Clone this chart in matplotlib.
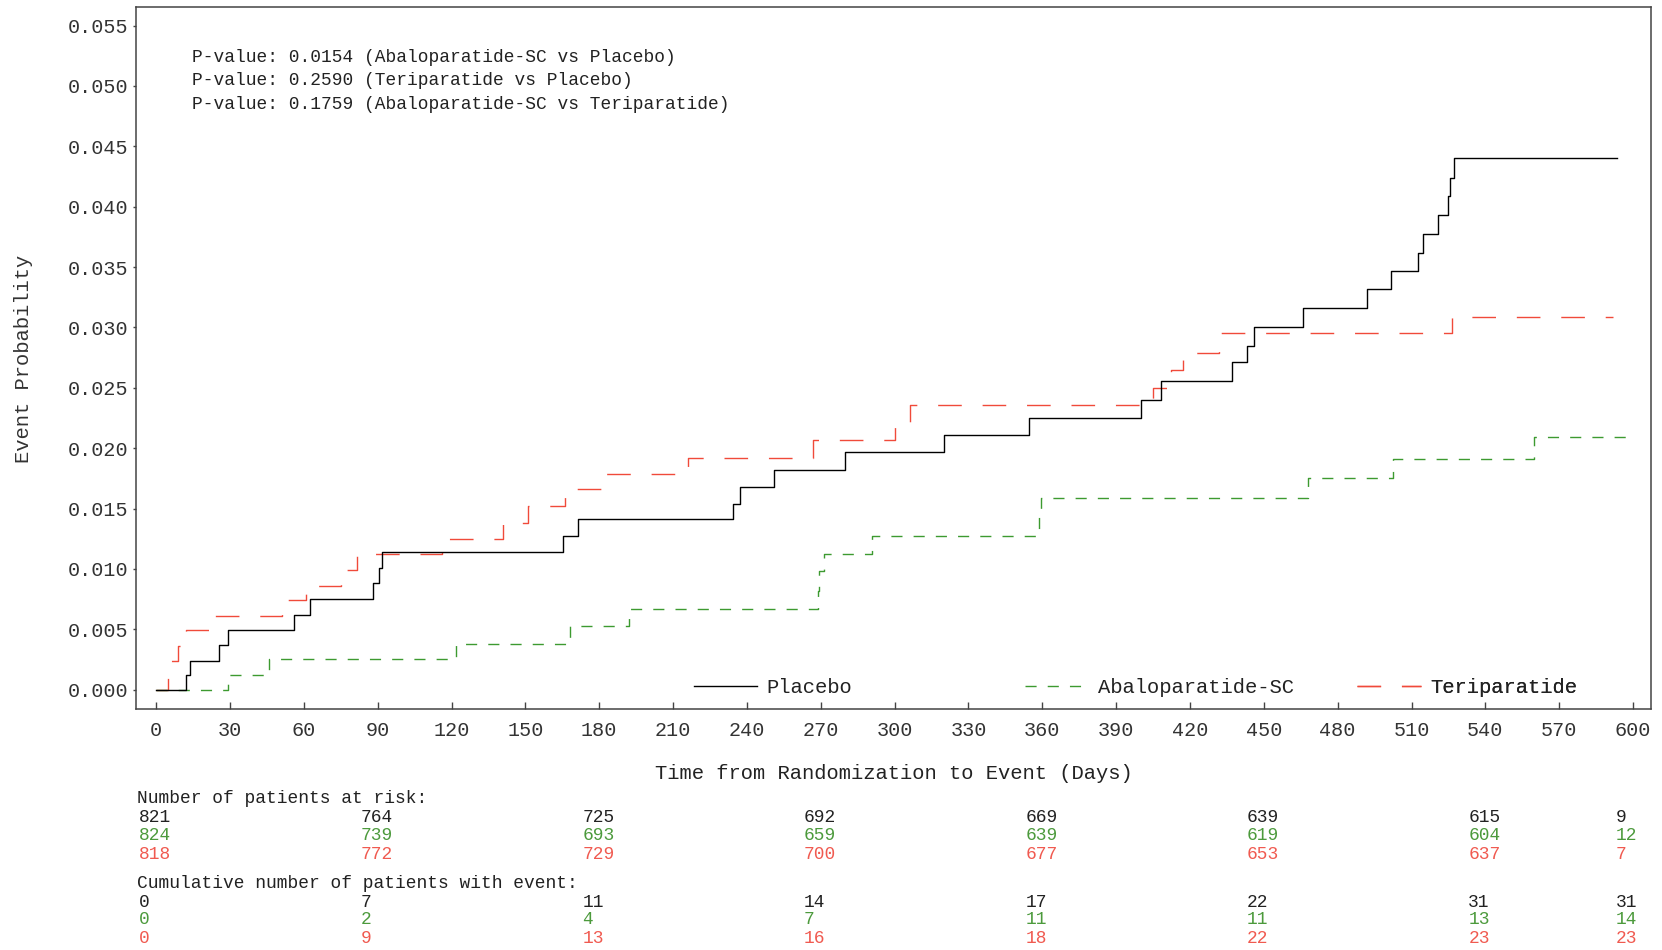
import matplotlib
matplotlib.use("Agg")
import matplotlib.pyplot as plt
import matplotlib.transforms as mtransforms

# Kaplan-Meier event curves: step times (days) and cumulative event probability
days_placebo = [0, 12, 13.8, 25.7, 29.1, 56, 62.6, 88, 90.7, 91.7, 165.4, 171.4,
                234.2, 237.2, 251, 280, 320, 354.5, 400.2, 408.1, 437, 443, 446,
                465.9, 492, 501.8, 512.5, 514.6, 520.7, 525, 525.7, 527.3]
prob_placebo = [0, 0.0012, 0.0024, 0.0037, 0.0049, 0.0062, 0.0075, 0.0088, 0.0101,
                0.0114, 0.0127, 0.0141, 0.0154, 0.0168, 0.0182, 0.0197, 0.0211,
                0.0225, 0.0240, 0.0256, 0.0271, 0.0285, 0.0300, 0.0316, 0.0332,
                0.0347, 0.0362, 0.0377, 0.0393, 0.0409, 0.0424, 0.0440]
end_placebo = 593.3

days_abalo = [0, 29.1, 46, 122, 168, 192, 268.7, 269.4, 271.3, 291, 358.6, 359.6,
              468, 502.6, 559.6]
prob_abalo = [0, 0.0012, 0.0025, 0.0038, 0.0053, 0.0067, 0.0082, 0.0098, 0.0112,
              0.0127, 0.0143, 0.0159, 0.0175, 0.0191, 0.0209]
end_abalo = 599

days_teri = [0, 4.8, 5.8, 8.7, 12, 23, 51, 60.7, 75, 81.7, 116, 141, 151, 166,
             181.3, 216, 267, 300.3, 306.4, 405, 412.2, 417.1, 431.7, 526.4]
prob_teri = [0, 0.0012, 0.0024, 0.0036, 0.0049, 0.0061, 0.0074, 0.0086, 0.0099,
             0.0112, 0.0125, 0.0138, 0.0152, 0.0166, 0.0179, 0.0192, 0.0207,
             0.0221, 0.0236, 0.0250, 0.0265, 0.0279, 0.0295, 0.0309]
end_teri = 592

# risk table
table_days = [0, 90, 180, 270, 360, 450, 540, 600]
risk_placebo = [821, 764, 725, 692, 669, 639, 615, 9]
risk_abalo = [824, 739, 693, 659, 639, 619, 604, 12]
risk_teri = [818, 772, 729, 700, 677, 653, 637, 7]
events_placebo = [0, 7, 11, 14, 17, 22, 31, 31]
events_abalo = [0, 2, 4, 7, 11, 11, 13, 14]
events_teri = [0, 9, 13, 16, 18, 22, 23, 23]

pvalues = ["P-value: 0.0154 (Abaloparatide-SC vs Placebo)",
           "P-value: 0.2590 (Teriparatide vs Placebo)",
           "P-value: 0.1759 (Abaloparatide-SC vs Teriparatide)"]

names = ["Placebo", "Abaloparatide-SC", "Teriparatide"]
BLACK = "#000000"
GREEN = "#3d9a30"
RED = "#f04a3a"
TXT_GREEN = "#4c9a3c"
TXT_RED = "#f05a50"

FONT = "Liberation Mono"
plt.rcParams["font.family"] = FONT

fig = plt.figure(figsize=(16.62, 9.5), dpi=100)
ax = fig.add_axes([0.0818, 0.2537, 0.9116, 0.7385])


def km_step(t, p, t_end, **kw):
    x = list(t) + [t_end]
    y = list(p) + [p[-1]]
    return ax.step(x, y, where="post", **kw)[0]


h_teri = km_step(days_teri, prob_teri, end_teri, color=RED, lw=1.0,
                 dashes=(17, 15))
h_abalo = km_step(days_abalo, prob_abalo, end_abalo, color=GREEN, lw=1.0,
                  dashes=(8, 8))
h_plac = km_step(days_placebo, prob_placebo, end_placebo, color=BLACK, lw=1.0)

ax.set_xlim(-8.2, 607.3)
ax.set_ylim(-0.0016, 0.0565)
ax.set_xticks(range(0, 601, 30))
ax.set_yticks([i * 0.005 for i in range(12)])
ax.set_yticklabels(["%.3f" % (i * 0.005) for i in range(12)])

for s in ax.spines.values():
    s.set_color("#444444")
    s.set_linewidth(1.1)
ax.tick_params(axis="y", direction="out", length=2.5, width=1, pad=3,
               labelsize=14.5, colors="#444444", labelcolor="#333333")
ax.tick_params(axis="x", direction="in", length=5, width=1, pad=9,
               labelsize=14.5, colors="#444444", labelcolor="#333333")

ax.set_xlabel("Time from Randomization to Event (Days)", fontsize=14.8,
              color="#222222")
ax.xaxis.label.set_va("center")
ax.xaxis.set_label_coords(0.5, -0.0926)
ax.set_ylabel("Event Probability", fontsize=14.8, color="#333333")
ax.yaxis.label.set_va("center")
ax.yaxis.set_label_coords(-0.0745, 0.499)

for i, line in enumerate(pvalues):
    ax.text(0.037, 0.929 - i * 0.0335, line, transform=ax.transAxes,
            fontsize=12.9, va="center", ha="left", color="#222222")

# one legend per entry so each can sit at its own spot along the bottom
for h, name, xa in zip([h_plac, h_abalo, h_teri], names, [0.368, 0.587, 0.806]):
    leg = ax.legend([h], [name], loc="center left", bbox_to_anchor=(xa, 0.031),
                    frameon=False, borderpad=0, borderaxespad=0,
                    handlelength=3.1, handletextpad=0.45, fontsize=14.8)
    for t in leg.get_texts():
        t.set_color("#222222")
    ax.add_artist(leg)

# number at risk / cumulative events table under the axis
trans = mtransforms.blended_transform_factory(ax.transData, fig.transFigure)
trans = mtransforms.offset_copy(trans, fig=fig, x=-17, y=0, units="dots")
tsize = 12.9

fig.text(0.0823, 0.159, "Number of patients at risk:", fontsize=tsize,
         va="center", ha="left", color="#222222")
fig.text(0.0823, 0.0705, "Cumulative number of patients with event:",
         fontsize=tsize, va="center", ha="left", color="#222222")

rows = [(risk_placebo, 0.140, "#222222"), (risk_abalo, 0.120, TXT_GREEN),
        (risk_teri, 0.101, TXT_RED),
        (events_placebo, 0.0505, "#222222"), (events_abalo, 0.0316, TXT_GREEN),
        (events_teri, 0.0116, TXT_RED)]
for vals, yf, col in rows:
    for d, v in zip(table_days, vals):
        ax.text(d, yf, str(v), transform=trans, fontsize=tsize, va="center",
                ha="left", color=col, clip_on=False)

fig.savefig("out.png", dpi=100)
